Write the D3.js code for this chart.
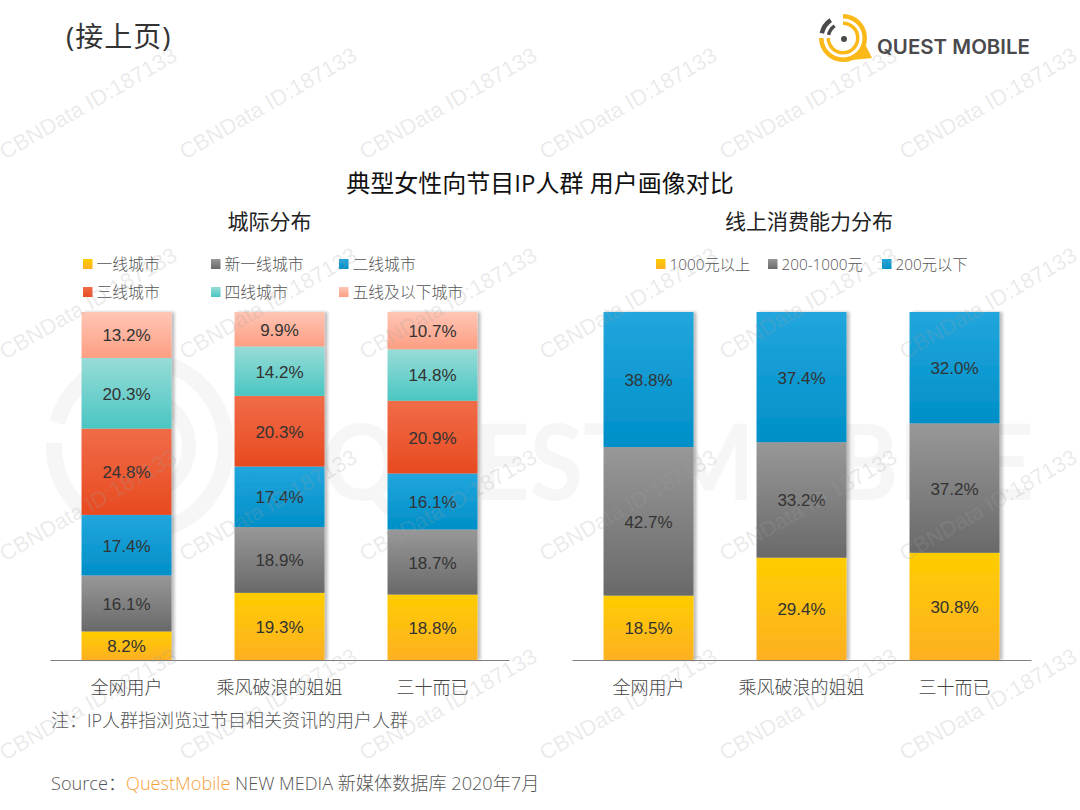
<!DOCTYPE html>
<html>
<head>
<meta charset="utf-8">
<script src="https://cdn.jsdelivr.net/npm/d3@7"></script>
<style>
  html, body { margin: 0; padding: 0; background: #fff; }
  text { font-family: "Open Sans", "Noto Sans CJK SC", sans-serif; }
  .num { font-family: "Liberation Sans", Arial, sans-serif; font-size: 17px; fill: #333; }
</style>
</head>
<body>
<svg id="chart" width="1080" height="810"></svg>
<script>
const categories = ['全网用户', '乘风破浪的姐姐', '三十而已']

// 城际分布
const cityLabels = ['一线城市', '新一线城市', '二线城市', '三线城市', '四线城市', '五线及以下城市']
const cityTier1 = [8.2, 19.3, 18.8]
const cityNewTier1 = [16.1, 18.9, 18.7]
const cityTier2 = [17.4, 17.4, 16.1]
const cityTier3 = [24.8, 20.3, 20.9]
const cityTier4 = [20.3, 14.2, 14.8]
const cityTier5 = [13.2, 9.9, 10.7]

// 线上消费能力分布
const spendLabels = ['1000元以上', '200-1000元', '200元以下']
const spendHigh = [18.5, 29.4, 30.8]
const spendMid = [42.7, 33.2, 37.2]
const spendLow = [38.8, 37.4, 32.0]

const ramps = {
  yellow: ['#ffcd00', '#fdb022'],
  grey: ['#989898', '#696969'],
  blue: ['#22a6dd', '#008fc8'],
  red: ['#f06c48', '#e84a20'],
  teal: ['#98dcd7', '#4ac6c2'],
  pink: ['#ffc6b6', '#fd9e82']
}

const svg = d3.select('#chart')
const defs = svg.append('defs')

Object.keys(ramps).forEach(function (name) {
  let grad = defs.append('linearGradient')
    .attr('id', 'grad-' + name)
    .attr('x1', 0).attr('y1', 0).attr('x2', 0).attr('y2', 1)
  grad.append('stop').attr('offset', '0%').attr('stop-color', ramps[name][0])
  grad.append('stop').attr('offset', '100%').attr('stop-color', ramps[name][1])
})

let shadow = defs.append('filter').attr('id', 'bar-shadow')
  .attr('x', '-10%').attr('y', '-5%').attr('width', '125%').attr('height', '110%')
shadow.append('feDropShadow')
  .attr('dx', 3).attr('dy', 0).attr('stdDeviation', 1.8)
  .attr('flood-color', '#000').attr('flood-opacity', 0.26)

// big pale brand mark behind the charts
let backdrop = svg.append('g').attr('fill', '#f6f6f6')
let markArc = d3.arc()
backdrop.selectAll('path')
  .data([
    { innerRadius: 78, outerRadius: 94, startAngle: -0.1, endAngle: 4.75 },
    { innerRadius: 42, outerRadius: 56, startAngle: -0.1, endAngle: 4.75 },
    { innerRadius: 78, outerRadius: 94, startAngle: -1.3, endAngle: -0.6 }
  ])
  .join('path')
  .attr('transform', 'translate(140,446)')
  .attr('d', markArc)
backdrop.append('text')
  .attr('x', 322).attr('y', 500)
  .attr('textLength', 712)
  .attr('lengthAdjust', 'spacingAndGlyphs')
  .style('font-family', 'Lato, sans-serif')
  .style('font-size', '106px')
  .style('font-weight', 700)
  .text('QUEST MOBILE')

function stackedBars (xRange, labels, series, colors) {
  let g = svg.append('g')
  let x = d3.scaleBand().domain(categories).range(xRange).paddingInner(0.412).paddingOuter(0.206)
  let y = d3.scaleLinear().domain([0, 100]).range([660, 312])

  let rows = categories.map(function (c, i) {
    let row = { category: c }
    labels.forEach(function (l, j) { row[l] = series[j][i] })
    return row
  })
  let layers = d3.stack().keys(labels)(rows)

  let groups = g.selectAll('g.bar')
    .data(categories)
    .join('g')
    .attr('class', 'bar')
    .attr('filter', 'url(#bar-shadow)')

  groups.selectAll('rect')
    .data(function (c, i) {
      return layers.map(function (layer, j) { return { d: layer[i], color: colors[j], category: c } })
    })
    .join('rect')
    .attr('x', function (s) { return x(s.category) })
    .attr('width', x.bandwidth())
    .attr('y', function (s) { return y(s.d[1]) })
    .attr('height', function (s) { return y(s.d[0]) - y(s.d[1]) })
    .attr('fill', function (s) { return 'url(#grad-' + s.color + ')' })

  layers.forEach(function (layer) {
    g.selectAll(null)
      .data(layer)
      .join('text')
      .attr('class', 'num')
      .attr('text-anchor', 'middle')
      .attr('dominant-baseline', 'central')
      .attr('x', function (d) { return x(d.data.category) + x.bandwidth() / 2 })
      .attr('y', function (d) { return (y(d[0]) + y(d[1])) / 2 + 1 })
      .text(function (d) { return (d[1] - d[0]).toFixed(1) + '%' })
  })

  let axis = g.append('g')
    .attr('transform', 'translate(0,660)')
    .call(d3.axisBottom(x).tickSize(0).tickPadding(21))
  axis.select('.domain').attr('stroke', '#808080').attr('stroke-width', 1.2)
  axis.selectAll('text')
    .style('font-family', '"Noto Sans CJK SC", sans-serif')
    .style('font-size', '18px')
    .style('font-weight', 300)
    .attr('fill', '#444')
}

stackedBars([50, 509], cityLabels,
  [cityTier1, cityNewTier1, cityTier2, cityTier3, cityTier4, cityTier5],
  ['yellow', 'grey', 'blue', 'red', 'teal', 'pink'])
stackedBars([572, 1031], spendLabels,
  [spendHigh, spendMid, spendLow],
  ['yellow', 'grey', 'blue'])

function legend (labels, colors, xs, ys, size) {
  labels.forEach(function (l, i) {
    let g = svg.append('g').attr('transform', 'translate(' + xs[i] + ',' + ys[i] + ')')
    g.append('rect').attr('x', 0).attr('y', -5).attr('width', 9.5).attr('height', 10)
      .attr('fill', 'url(#grad-' + colors[i] + ')')
    g.append('text').attr('x', 13.5).attr('dominant-baseline', 'central')
      .style('font-size', size + 'px').style('font-weight', 300)
      .attr('fill', '#555').text(l)
  })
}
legend(cityLabels, ['yellow', 'grey', 'blue', 'red', 'teal', 'pink'],
  [83, 211, 339, 83, 211, 339], [264, 264, 264, 292, 292, 292], 15.8)
legend(spendLabels, ['yellow', 'grey', 'blue'], [656, 768, 882], [264, 264, 264], 15.3)

function label (x, y, txt, size, weight, anchor, color) {
  return svg.append('text')
    .attr('x', x).attr('y', y)
    .attr('text-anchor', anchor || 'start')
    .attr('dominant-baseline', 'central')
    .style('font-size', size + 'px')
    .style('font-weight', weight)
    .attr('fill', color || '#333')
    .text(txt)
}

label(66, 36, '(接上页)', 28, 400, 'start', '#333').style('letter-spacing', '1px')
label(540, 182, '典型女性向节目IP人群 用户画像对比', 24, 400, 'middle', '#111')
label(269.5, 221, '城际分布', 21, 400, 'middle', '#222')
label(809, 221, '线上消费能力分布', 21, 400, 'middle', '#222')
label(51, 720, '注：IP人群指浏览过节目相关资讯的用户人群', 18, 300, 'start', '#555')

let source = label(51, 783, 'Source：', 18.15, 300, 'start', '#555')
source.append('tspan').attr('fill', '#f59f3a').text('QuestMobile')
source.append('tspan').text(' NEW MEDIA 新媒体数据库 2020年7月')

// logo
let logo = svg.append('g').attr('transform', 'translate(843,38)')
logo.append('path').attr('fill', '#fbb919').attr('d', d3.line()([[29, 20], [22, 6], [9, 22]]))
logo.selectAll('path.ring')
  .data([
    { innerRadius: 19.5, outerRadius: 24, startAngle: 0, endAngle: 4.71, fill: '#fbb919' },
    { innerRadius: 13, outerRadius: 16.5, startAngle: 0, endAngle: 4.71, fill: '#fbb919' },
    { innerRadius: 19.5, outerRadius: 24, startAngle: -1.35, endAngle: -0.6, fill: '#4a4a4d' },
    { innerRadius: 13, outerRadius: 16.5, startAngle: -1.35, endAngle: -0.6, fill: '#4a4a4d' }
  ])
  .join('path')
  .attr('class', 'ring')
  .attr('fill', function (d) { return d.fill })
  .attr('d', d3.arc())
logo.append('circle').attr('cx', 1).attr('cy', 1).attr('r', 3).attr('fill', '#4a4a4d')
svg.append('text')
  .attr('x', 877).attr('y', 47)
  .attr('dominant-baseline', 'central')
  .attr('textLength', 153)
  .attr('lengthAdjust', 'spacingAndGlyphs')
  .style('font-family', 'Inter, sans-serif')
  .style('font-size', '20px')
  .style('font-weight', 600)
  .attr('fill', '#4a4a4d')
  .text('QUEST MOBILE')

// repeated watermark on top of everything
let markRows = [160, 360, 562, 761]
let markCols = [5, 185, 365, 545, 725, 905]
markRows.forEach(function (my) {
  markCols.forEach(function (mx) {
    svg.append('text')
      .attr('transform', 'translate(' + mx + ',' + my + ') rotate(-30)')
      .style('font-family', '"Liberation Sans", Arial, sans-serif')
      .style('font-size', '22px')
      .attr('fill', '#a0a0a0')
      .attr('fill-opacity', 0.22)
      .text('CBNData ID:187133')
  })
})
</script>
</body>
</html>
